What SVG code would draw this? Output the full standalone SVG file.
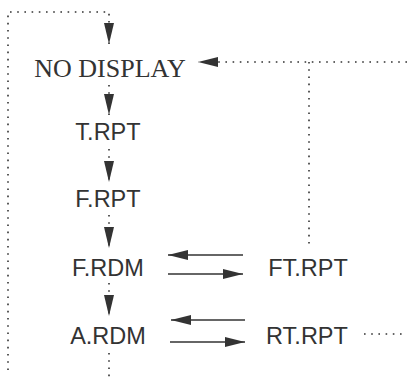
<svg xmlns="http://www.w3.org/2000/svg" width="407" height="379" viewBox="0 0 407 379">
<style>
.t{font-family:"Liberation Sans",Arial,sans-serif;font-size:23.5px;fill:#333;text-anchor:middle}
.s{font-family:"Liberation Serif","Times New Roman",serif;font-size:26px;fill:#333;text-anchor:middle}
.d{fill:none;stroke:#333;stroke-width:1.6;stroke-dasharray:1.6 5.6}
.l{fill:none;stroke:#333;stroke-width:1.6}
</style>
<defs>
<marker id="ah" viewBox="0 0 20 10" refX="20" refY="5" markerWidth="20" markerHeight="10" markerUnits="userSpaceOnUse" orient="auto">
<path d="M0,0 L20,5 L0,10 z" fill="#333"/>
</marker>
<marker id="av" viewBox="0 0 21 10" refX="21" refY="5" markerWidth="21" markerHeight="10" markerUnits="userSpaceOnUse" orient="auto">
<path d="M0,0 L21,5 L0,10 z" fill="#333"/>
</marker>
</defs>
<g id="connectors">
<path class="d" d="M8,370 V12 H109 V44" marker-end="url(#av)"/>
<path class="d" d="M109,85 V115" marker-end="url(#av)"/>
<path class="d" d="M109,149 V182" marker-end="url(#av)"/>
<path class="d" d="M109,215 V248" marker-end="url(#av)"/>
<path class="d" d="M109,283 V316" marker-end="url(#av)"/>
<path class="d" d="M109,353 V379"/>
<path class="d" d="M407,62 H198" marker-end="url(#ah)"/>
<path class="d" d="M309,62 V246"/>
<path class="d" d="M364,334 H403"/>
<path class="l" d="M243,255 H168" marker-end="url(#ah)"/>
<path class="l" d="M168,274 H243" marker-end="url(#ah)"/>
<path class="l" d="M245,320 H171" marker-end="url(#ah)"/>
<path class="l" d="M170,342 H245" marker-end="url(#ah)"/>
</g>
<g id="no-display"><text class="s" x="110" y="77">NO DISPLAY</text></g>
<g id="t-rpt"><text class="t" x="108" y="140">T.RPT</text></g>
<g id="f-rpt"><text class="t" x="108" y="207">F.RPT</text></g>
<g id="f-rdm"><text class="t" x="108" y="276">F.RDM</text></g>
<g id="a-rdm"><text class="t" x="108" y="344">A.RDM</text></g>
<g id="ft-rpt"><text class="t" x="308" y="276">FT.RPT</text></g>
<g id="rt-rpt"><text class="t" x="307" y="344">RT.RPT</text></g>
</svg>
